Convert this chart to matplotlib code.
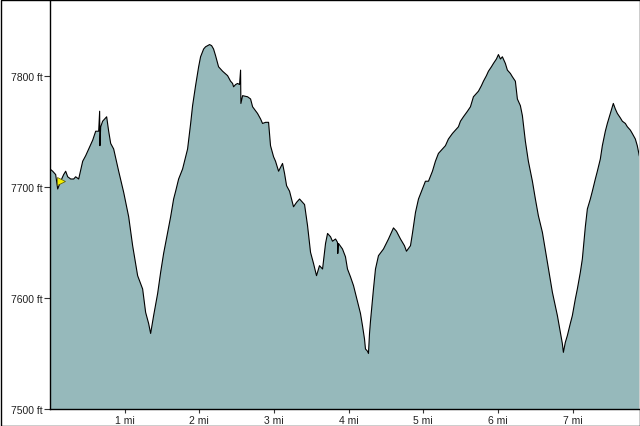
import matplotlib
matplotlib.use("Agg")
import matplotlib.pyplot as plt
from matplotlib.patches import Rectangle

# distance along trail (miles) and elevation (ft)
miles = [0.000, 0.036, 0.076, 0.103, 0.143, 0.183, 0.210, 0.237, 0.277, 0.317, 0.344, 0.384,
         0.438, 0.478, 0.518, 0.572, 0.612, 0.652, 0.665, 0.669, 0.679, 0.705, 0.759, 0.786,
         0.813, 0.853, 0.920, 0.987, 1.054, 1.107, 1.174, 1.241, 1.281, 1.321, 1.348, 1.388,
         1.442, 1.482, 1.522, 1.576, 1.616, 1.656, 1.683, 1.723, 1.776, 1.817, 1.843, 1.884,
         1.910, 1.950, 1.991, 2.017, 2.058, 2.084, 2.138, 2.165, 2.191, 2.218, 2.258, 2.312,
         2.379, 2.419, 2.446, 2.459, 2.486, 2.513, 2.539, 2.553, 2.557, 2.580, 2.647, 2.687,
         2.714, 2.780, 2.821, 2.847, 2.888, 2.928, 2.954, 2.995, 3.021, 3.062, 3.115, 3.142,
         3.169, 3.209, 3.236, 3.262, 3.303, 3.343, 3.383, 3.410, 3.450, 3.490, 3.530, 3.570,
         3.610, 3.651, 3.691, 3.718, 3.758, 3.784, 3.825, 3.851, 3.855, 3.865, 3.918, 3.958,
         3.985, 4.025, 4.066, 4.092, 4.133, 4.159, 4.186, 4.213, 4.226, 4.253, 4.266, 4.280,
         4.293, 4.333, 4.360, 4.400, 4.467, 4.534, 4.601, 4.641, 4.695, 4.748, 4.775, 4.829,
         4.855, 4.896, 4.936, 4.976, 5.029, 5.070, 5.123, 5.163, 5.203, 5.257, 5.297, 5.337,
         5.391, 5.431, 5.471, 5.498, 5.538, 5.592, 5.632, 5.672, 5.712, 5.739, 5.779, 5.806,
         5.846, 5.873, 5.913, 5.940, 5.980, 6.007, 6.034, 6.060, 6.100, 6.127, 6.167, 6.194,
         6.234, 6.261, 6.301, 6.328, 6.368, 6.408, 6.462, 6.502, 6.542, 6.596, 6.663, 6.730,
         6.797, 6.837, 6.863, 6.877, 6.903, 6.930, 6.970, 6.997, 7.037, 7.064, 7.104, 7.131,
         7.171, 7.198, 7.238, 7.265, 7.305, 7.332, 7.372, 7.399, 7.439, 7.466, 7.506, 7.546,
         7.573, 7.600, 7.640, 7.667, 7.707, 7.734, 7.774, 7.800, 7.841, 7.867, 7.894]

elev_ft = [7716, 7714, 7711, 7698, 7705, 7711, 7714, 7709, 7707, 7707, 7709, 7707,
           7723, 7728, 7734, 7742, 7750, 7750, 7768, 7737, 7754, 7759, 7763, 7750,
           7739, 7734, 7714, 7695, 7673, 7647, 7620, 7608, 7587, 7577, 7568, 7584,
           7604, 7623, 7640, 7659, 7673, 7689, 7696, 7707, 7716, 7727, 7734, 7757,
           7773, 7791, 7808, 7817, 7824, 7826, 7828, 7827, 7824, 7818, 7808, 7804,
           7800, 7795, 7793, 7790, 7792, 7793, 7792, 7805, 7775, 7782, 7781, 7779,
           7772, 7766, 7761, 7757, 7758, 7758, 7737, 7727, 7723, 7714, 7721, 7712,
           7701, 7696, 7689, 7682, 7686, 7689, 7686, 7684, 7665, 7641, 7631, 7620,
           7629, 7626, 7649, 7658, 7655, 7651, 7653, 7650, 7640, 7649, 7644, 7637,
           7626, 7619, 7611, 7604, 7593, 7586, 7575, 7563, 7554, 7552, 7550, 7568,
           7579, 7608, 7626, 7638, 7644, 7653, 7663, 7660, 7653, 7647, 7642, 7647,
           7658, 7677, 7689, 7696, 7705, 7705, 7714, 7723, 7730, 7734, 7737, 7743,
           7748, 7751, 7754, 7759, 7763, 7768, 7772, 7781, 7784, 7786, 7791, 7795,
           7800, 7804, 7808, 7811, 7815, 7819, 7815, 7817, 7811, 7805, 7802, 7799,
           7795, 7779, 7773, 7764, 7741, 7723, 7705, 7689, 7674, 7659, 7632, 7605,
           7584, 7569, 7559, 7551, 7560, 7566, 7577, 7584, 7599, 7608, 7623, 7635,
           7664, 7680, 7689, 7696, 7707, 7714, 7725, 7737, 7750, 7757, 7766, 7775,
           7770, 7766, 7762, 7759, 7757, 7754, 7751, 7748, 7743, 7737, 7728]

y_ticks = [7500, 7600, 7700, 7800]
y_labels = ["7500 ft", "7600 ft", "7700 ft", "7800 ft"]
x_ticks = [1, 2, 3, 4, 5, 6, 7]
x_labels = ["1 mi", "2 mi", "3 mi", "4 mi", "5 mi", "6 mi", "7 mi"]

start_marker = (0.15, 7705)

plt.rcParams['font.family'] = ['Liberation Sans', 'DejaVu Sans']

fig = plt.figure(figsize=(6.4, 4.27), dpi=100)
fig.patch.set_facecolor("white")
ax = fig.add_axes([50/640, 17/427, 589/640, 410/427])

ax.fill_between(miles, elev_ft, 7400, color="#96b9bb", linewidth=0)
ax.plot(miles, elev_ft, color="black", linewidth=0.8)
ax.plot([start_marker[0]], [start_marker[1]], marker=">", color="#f5f000",
        markeredgecolor="#555500", markersize=6, markeredgewidth=0.5)

ax.set_xlim(0, 7.89)
ax.set_ylim(7500, 7869)
ax.set_yticks(y_ticks)
ax.set_yticklabels(y_labels)
ax.set_xticks(x_ticks)
ax.set_xticklabels(x_labels)
ax.tick_params(axis="both", labelsize=7.5, colors="#333333", length=4, width=0.8,
               direction="out", pad=1.5)
ax.tick_params(axis="x", length=3)
for lbl in ax.get_yticklabels() + ax.get_xticklabels():
    lbl.set_color("#222222")
for s in ["top", "right"]:
    ax.spines[s].set_visible(False)
for s in ["left", "bottom"]:
    ax.spines[s].set_color("black")
    ax.spines[s].set_linewidth(1.0)

fig.patches.append(Rectangle((0.5/640, 0.5/427), 639/640, 426/427, transform=fig.transFigure,
                             fill=False, edgecolor="black", linewidth=1.0))

fig.savefig("out.png", dpi=100)
